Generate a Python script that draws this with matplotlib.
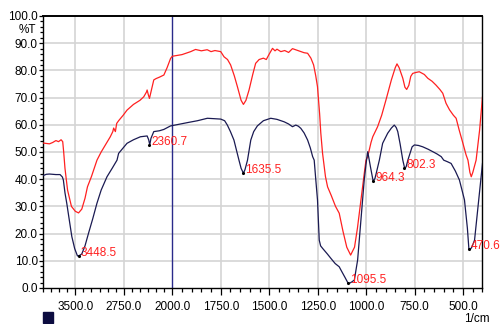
"""FTIR transmittance spectra, two samples, with peak labels."""

import numpy as np
import matplotlib

matplotlib.use("Agg")
import matplotlib.pyplot as plt
from matplotlib.patches import Rectangle
from matplotlib.ticker import FixedLocator, FuncFormatter

# --- data ------------------------------------------------------------------
red_wn = [4000, 3900, 3850, 3800, 3760, 3720, 3695, 3680, 3660, 3620, 3560,
          3500, 3450, 3400, 3350, 3312, 3250, 3165, 3100, 3000, 2959, 2920,
          2907, 2880, 2860, 2830, 2760, 2700, 2600, 2500, 2441, 2400, 2389,
          2370, 2353, 2320, 2286, 2250, 2200, 2130, 2080, 2026, 2000, 1950,
          1905, 1880, 1850, 1820, 1800, 1780, 1750, 1733, 1715, 1699, 1680,
          1664, 1645, 1633, 1620, 1604, 1585, 1570, 1552, 1530, 1515, 1500,
          1483, 1470, 1460, 1440, 1420, 1400, 1380, 1360, 1340, 1320, 1302,
          1285, 1271, 1260, 1251, 1240, 1234, 1225, 1210, 1199, 1180, 1158,
          1139, 1120, 1100, 1080, 1060, 1045, 1027, 1010, 1001, 992, 975, 966,
          941, 920, 898, 870, 850, 841, 830, 811, 800, 791, 780, 770, 760, 740,
          726, 700, 682, 660, 640, 620, 605, 588, 570, 550, 536, 520, 501, 485,
          475, 465, 458, 450, 433, 415, 400]
red_t = [53.3, 53.0, 53.5, 54.2, 53.8, 54.5, 53.8, 50.0, 44.0, 36.0, 30.0,
         28.2, 27.6, 29.0, 33.0, 37.2, 41.0, 47.0, 50.0, 54.0, 55.6, 57.5,
         58.8, 57.5, 60.5, 61.5, 63.5, 65.4, 67.5, 69.0, 70.3, 72.0, 72.8,
         71.0, 69.7, 73.0, 76.5, 77.0, 77.5, 78.3, 81.0, 84.4, 85.2, 85.8,
         86.9, 87.7, 87.2, 87.6, 86.9, 87.3, 86.9, 85.0, 84.0, 82.0, 78.0,
         74.0, 69.0, 67.5, 69.0, 72.8, 78.5, 82.6, 84.0, 84.5, 84.0, 86.0,
         88.1, 87.2, 87.8, 86.9, 87.3, 86.6, 88.0, 87.5, 87.0, 86.5, 86.3,
         84.5, 82.0, 78.0, 74.0, 64.0, 57.0, 49.6, 41.0, 37.2, 34.0, 30.0,
         27.5, 21.0, 15.0, 12.1, 15.0, 22.0, 32.4, 42.0, 47.0, 48.3, 53.5, 55.6,
         59.3, 63.5, 69.1, 76.5, 81.0, 82.4, 81.0, 77.1, 73.8, 73.0, 74.5, 77.8,
         78.9, 79.3, 79.5, 78.5, 77.1, 76.0, 74.6, 73.0, 71.6, 67.9, 65.5, 63.5,
         62.4, 58.0, 53.2, 49.0, 47.0, 42.5, 40.9, 42.5, 47.0, 58.0, 70.3]

navy_wn = [4000, 3950, 3900, 3800, 3736, 3700, 3685, 3660, 3632, 3590, 3554,
           3510, 3467, 3440, 3400, 3350, 3296, 3230, 3166, 3100, 3010, 2930,
           2855, 2830, 2760, 2700, 2600, 2493, 2389, 2365, 2348, 2330, 2286,
           2200, 2130, 2026, 2000, 1922, 1870, 1819, 1750, 1730, 1716, 1700,
           1682, 1656, 1645, 1633, 1625, 1612, 1595, 1580, 1561, 1530, 1492,
           1460, 1423, 1400, 1380, 1363, 1350, 1337, 1320, 1302, 1288, 1276,
           1268, 1260, 1251, 1242, 1235, 1225, 1200, 1182, 1160, 1139, 1130,
           1110, 1095, 1087, 1075, 1061, 1044, 1027, 1010, 1000, 992, 984, 978,
           964, 955, 948, 932, 915, 889, 870, 855, 845, 837, 825, 811, 802, 794,
           785, 763, 751, 730, 708, 680, 656, 635, 613, 600, 580, 562, 540, 519,
           493, 478, 470, 462, 455, 441, 416, 400]
navy_t = [41.3, 41.8, 41.9, 41.7, 41.7, 40.8, 39.7, 35.0, 31.1, 24.5, 18.9,
          14.5, 11.8, 11.9, 12.5, 15.5, 20.1, 25.5, 31.1, 36.0, 40.9, 44.0,
          47.0, 49.5, 51.5, 53.2, 54.5, 55.6, 55.9, 54.5, 52.6, 55.0, 57.5,
          57.8, 58.3, 59.6, 59.7, 60.8, 61.5, 62.4, 62.1, 61.5, 59.9, 57.5,
          54.4, 47.0, 44.0, 42.2, 43.5, 47.0, 54.4, 57.5, 59.6, 61.5, 62.4,
          62.0, 61.1, 60.3, 59.3, 59.9, 59.5, 58.7, 57.0, 54.4, 51.5, 48.3,
          47.0, 40.0, 32.4, 17.6, 15.5, 14.6, 12.5, 10.9, 9.0, 7.8, 6.6,
          4.0, 2.0, 1.7, 2.2, 2.9, 10.3, 25.0, 39.7, 46.0, 50.1, 47.0, 44.6,
          39.3, 40.2, 42.2, 47.0, 53.2, 56.9, 58.8, 59.9, 59.0, 57.5, 53.0, 47.0,
          44.2, 44.5, 47.0, 51.9, 52.6, 52.4, 51.9, 51.0, 50.1, 49.3, 48.3, 47.0,
          46.4, 45.8, 43.0, 39.7, 32.4, 22.0, 14.2, 14.3, 15.0, 17.6, 34.8, 45.8]

peak_wn = [3448.5, 2360.7, 1635.5, 1095.5, 964.3, 802.3, 470.6]
peak_t = [11.8, 52.6, 42.2, 1.7, 39.2, 44.2, 14.2]

x_major = [3500, 2750, 2000, 1750, 1500, 1250, 1000, 750, 500]
y_major = [0, 10, 20, 30, 40, 50, 60, 70, 80, 90, 100]

RED = "#ff2020"
NAVY = "#1a1a52"


def _fwd(x):
    x = np.asarray(x, dtype=float)
    return np.where(x > 2000, 2000 + (x - 2000) / 3.0, x)


def _inv(u):
    u = np.asarray(u, dtype=float)
    return np.where(u > 2000, 2000 + (u - 2000) * 3.0, u)


plt.rcParams["font.family"] = ["Liberation Sans", "DejaVu Sans"]

fig = plt.figure(figsize=(5.02, 3.24), dpi=100)
ax = fig.add_axes([43 / 502, 36 / 324, 439.5 / 502, 272 / 324])

ax.set_xscale("function", functions=(_fwd, _inv))
ax.set_xlim(4000, 400)
ax.set_ylim(0, 100)

# grid
for v in y_major[1:-1]:
    ax.axhline(v, color="#d4d4d4", lw=1.2, zorder=0)
for v in x_major:
    if v == 2000:
        ax.axvline(v, color="#2a2a8a", lw=1.0, zorder=1)
    else:
        ax.axvline(v, color="#d4d4d4", lw=1.2, zorder=0)

ax.plot(red_wn, red_t, color=RED, lw=0.9, zorder=3)
ax.plot(navy_wn, navy_t, color=NAVY, lw=0.9, zorder=3)

ax.scatter(peak_wn, peak_t, s=1.5, color="black", zorder=4)
for wn, t in zip(peak_wn, peak_t):
    ax.annotate(f"{wn:.1f}", xy=(wn, t), xytext=(2, 3),
                textcoords="offset pixels", ha="left", va="center",
                color=RED, fontsize=8.5, zorder=5)

# ticks
ax.xaxis.set_major_locator(FixedLocator(x_major))
minor_x = [v for v in list(np.arange(4000, 2000, -125)) + list(np.arange(2000, 399, -50))
           if v not in x_major]
ax.xaxis.set_minor_locator(FixedLocator(minor_x))
ax.xaxis.set_major_formatter(FuncFormatter(lambda v, _: f"{v:.1f}"))
ax.xaxis.set_minor_formatter(FuncFormatter(lambda v, _: ""))
ax.yaxis.set_major_locator(FixedLocator(y_major))
ax.yaxis.set_minor_locator(FixedLocator([v for v in range(0, 101, 2) if v % 10]))
ax.yaxis.set_major_formatter(FuncFormatter(lambda v, _: f"{v:.1f}"))

ax.tick_params(axis="x", which="major", direction="out", length=5, width=0.9,
               pad=4, labelsize=8.5, colors="black")
ax.tick_params(axis="x", which="minor", direction="out", length=3.2, width=0.9)
ax.tick_params(axis="y", which="major", direction="out", length=3.2, width=0.9,
               pad=0.5, labelsize=8.5)
ax.tick_params(axis="y", which="minor", direction="out", length=2.2, width=0.9)

for side in ["left", "bottom", "right", "top"]:
    ax.spines[side].set_color("black")
    ax.spines[side].set_linewidth(1.0)
ax.spines["top"].set_linewidth(1.4)

ax.text(-0.016, 95, "%T", transform=ax.get_yaxis_transform(), ha="right",
        va="center", fontsize=8.5)
fig.text(477 / 502, 1 - 319 / 324, "1/cm", ha="center", va="center",
         fontsize=8.5)
fig.add_artist(Rectangle((43 / 502, 1 - 323 / 324), 10 / 502, 11 / 324,
                         transform=fig.transFigure, color="#0c0c40"))

fig.savefig("out.png", dpi=100)
